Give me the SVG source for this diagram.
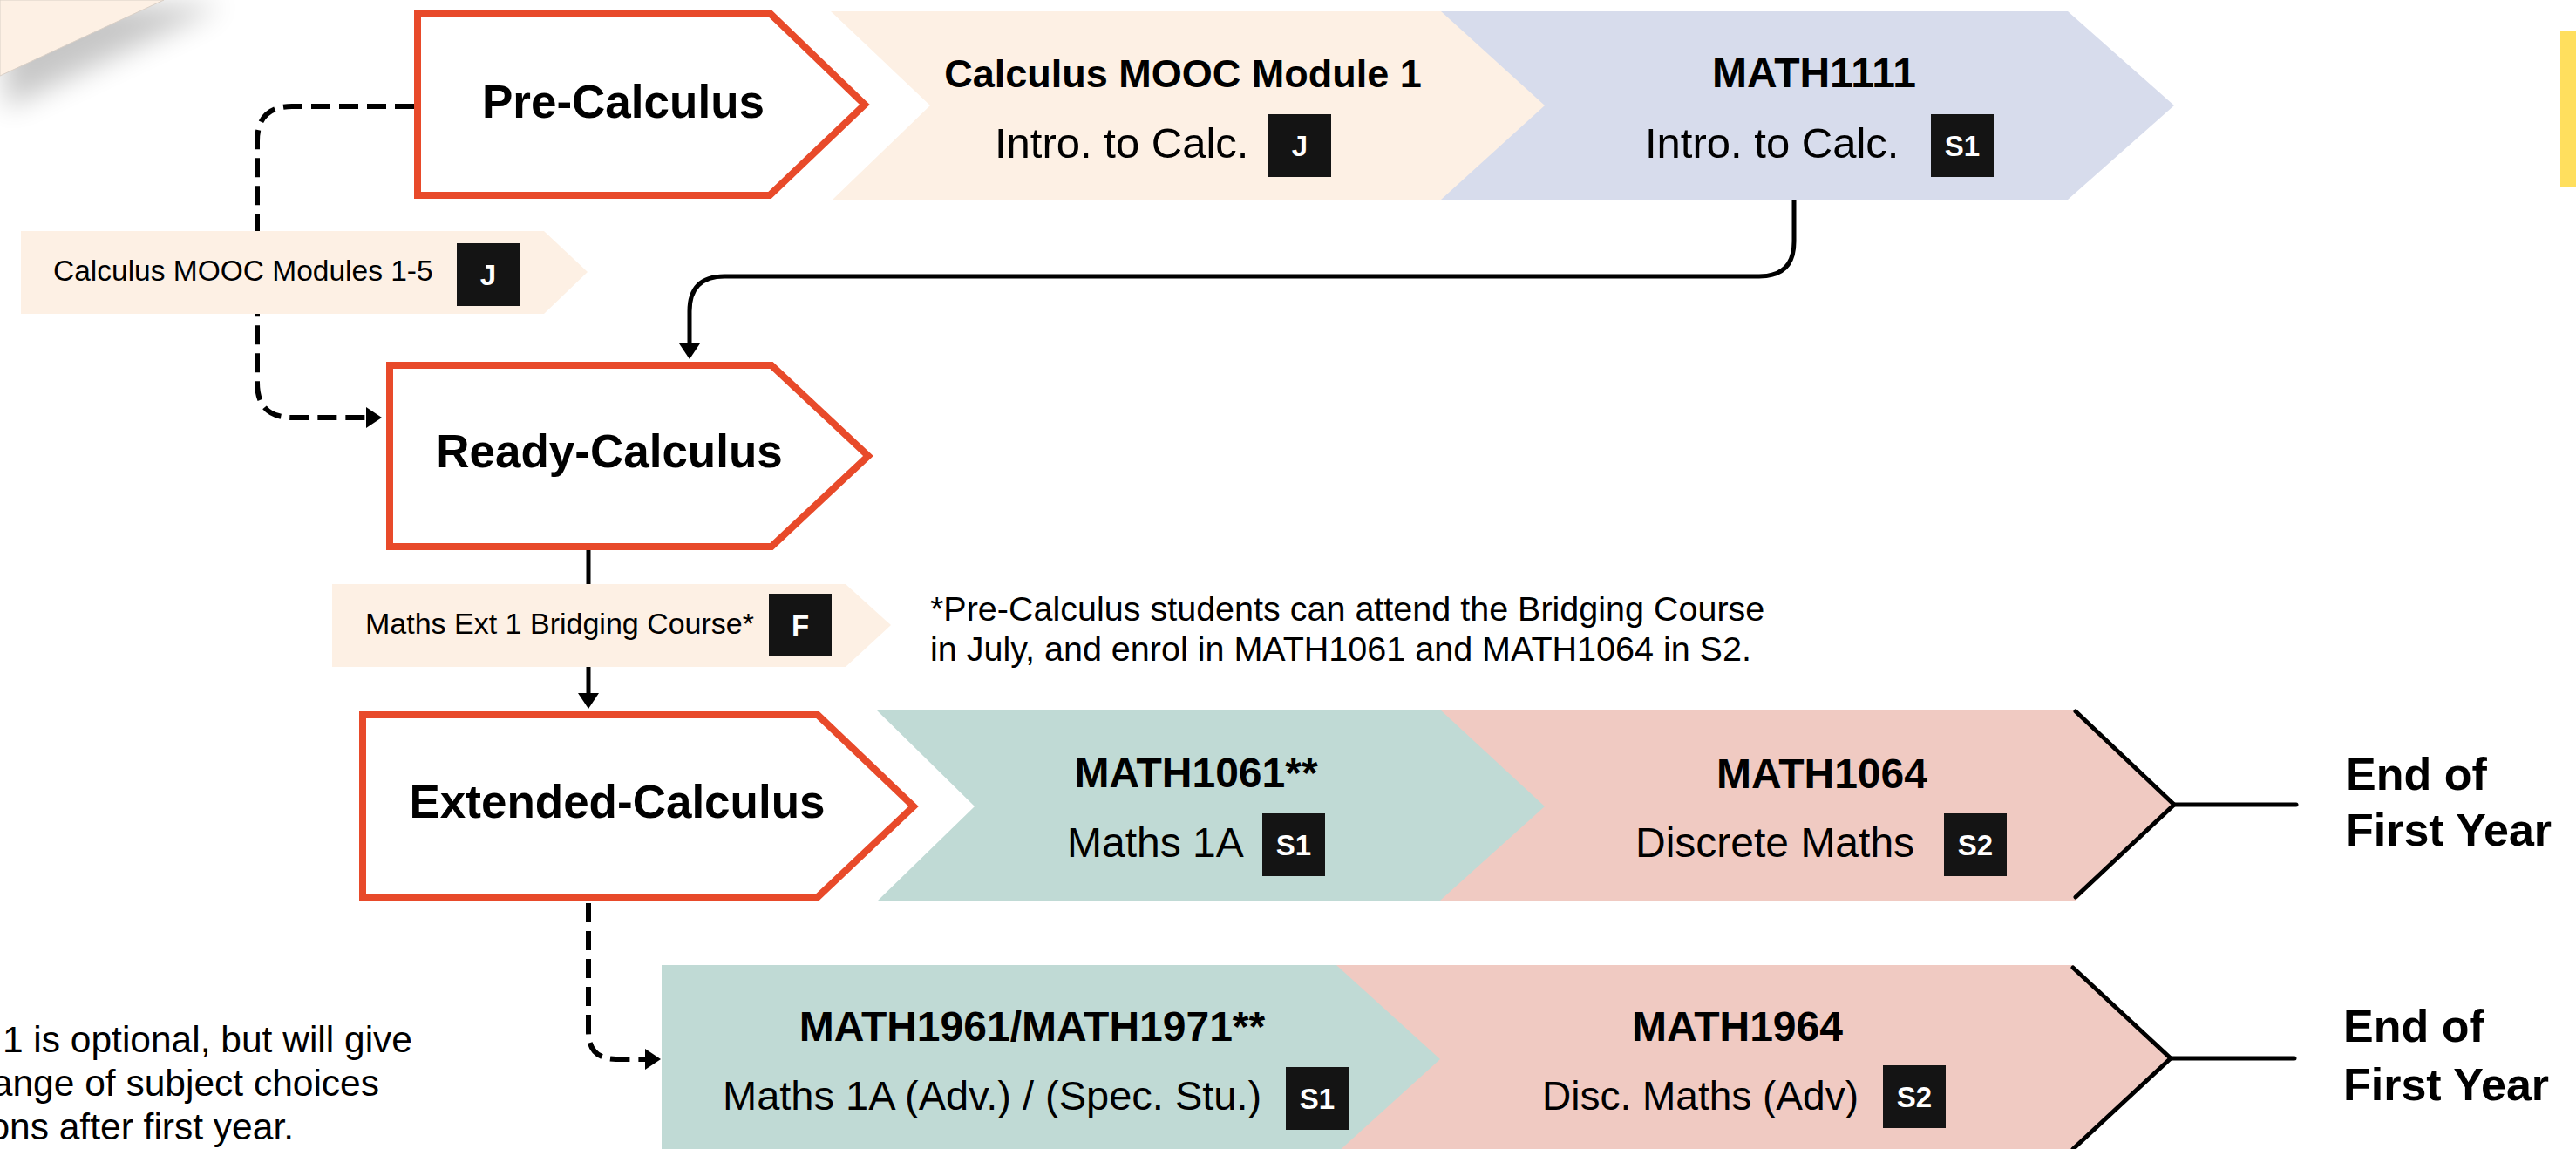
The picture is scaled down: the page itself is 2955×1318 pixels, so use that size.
<svg xmlns="http://www.w3.org/2000/svg" width="2955" height="1318" viewBox="0 0 2955 1318">
<style>
  .lvl{fill:#ffffff;stroke:#E84A2A;stroke-width:8;stroke-linejoin:miter}
  .beige{fill:#FDF0E4}
  .lav{fill:#D7DCEC}
  .teal{fill:#C0DAD5}
  .pink{fill:#F0CAC2}
  .badge{fill:#141414}
  .bt{font-family:"Liberation Sans",Arial,sans-serif;font-weight:bold;font-size:33px;fill:#ffffff;text-anchor:middle}
  .lvlt{font-family:"Liberation Sans",Arial,sans-serif;font-weight:bold;font-size:53px;fill:#000;text-anchor:middle}
  .code{font-family:"Liberation Sans",Arial,sans-serif;font-weight:bold;font-size:48px;fill:#000;text-anchor:middle}
  .sub{font-family:"Liberation Sans",Arial,sans-serif;font-size:48px;fill:#000}
  .small{font-family:"Liberation Sans",Arial,sans-serif;font-size:34px;fill:#000}
  .note{font-family:"Liberation Sans",Arial,sans-serif;font-size:39.5px;fill:#000}
  .side{font-family:"Liberation Sans",Arial,sans-serif;font-size:42.5px;fill:#000;text-anchor:end}
  .end{font-family:"Liberation Sans",Arial,sans-serif;font-weight:bold;font-size:52px;fill:#000}
  .fin{fill:none;stroke:#000;stroke-width:5;stroke-linecap:round;stroke-linejoin:miter}
  .solid{fill:none;stroke:#000;stroke-width:5}
  .dash{fill:none;stroke:#000;stroke-width:6;stroke-dasharray:22 10}
</style>
<defs>
  <marker id="arr" markerUnits="userSpaceOnUse" markerWidth="20" markerHeight="24" viewBox="0 0 20 24" refX="1" refY="12" orient="auto">
    <path d="M0,0 L18,12 L0,24 z" fill="#000"/>
  </marker>
  <filter id="blur" x="-50%" y="-50%" width="200%" height="200%">
    <feGaussianBlur stdDeviation="16"/>
  </filter>
</defs>

<rect x="0" y="0" width="2955" height="1318" fill="#ffffff"/>

<!-- corner decoration -->
<g id="corner">
  <polygon points="0,0 250,0 0,118" fill="#000" opacity="0.22" filter="url(#blur)" transform="translate(6,6)"/>
  <polygon points="0,0 188,0 0,87" class="beige" stroke="#d9cfc6" stroke-width="1"/>
</g>

<!-- yellow tab -->
<rect id="tab" x="2937" y="36" width="18" height="178" fill="#FFDF5E"/>

<!-- connectors -->
<g id="connectors">
  <path class="solid" d="M2058,229 V277 Q2058,317 2018,317 H831 Q791,317 791,357 V395" marker-end="url(#arr)"/>
  <path class="solid" d="M675,631 V796" marker-end="url(#arr)"/>
  <path class="dash" d="M475,122 H335 Q295,122 295,162 V439 Q295,479 335,479 H421" marker-end="url(#arr)"/>
  <path class="dash" d="M675,1036 V1183 Q675,1215 707,1215 H741" marker-end="url(#arr)"/>
</g>

<!-- level nodes -->
<g id="pre-calculus">
  <polygon class="lvl" points="479,15 883,15 992,120 883,224 479,224"/>
  <text class="lvlt" x="715" y="135">Pre-Calculus</text>
</g>
<g id="ready-calculus">
  <polygon class="lvl" points="447,419 885,419 996,523 885,627 447,627"/>
  <text class="lvlt" x="699" y="536">Ready-Calculus</text>
</g>
<g id="extended-calculus">
  <polygon class="lvl" points="416,820 938,820 1048,925 938,1029 416,1029"/>
  <text class="lvlt" x="708" y="938">Extended-Calculus</text>
</g>

<!-- row 1 courses -->
<g id="math1111">
  <polygon class="lav" points="1653,13 2372,13 2494,121 2372,229 1653,229"/>
  <text class="code" x="2081" y="100">MATH1111</text>
  <text class="sub" x="1887" y="181" style="font-size:49px">Intro. to Calc.</text>
  <rect class="badge" x="2215" y="131" width="72" height="72"/>
  <text class="bt" x="2251" y="179">S1</text>
</g>
<g id="mooc-module-1">
  <polygon class="beige" points="953,13 1653,13 1772,121 1653,229 955,229 1067,121"/>
  <text class="code" x="1357" y="100" style="font-size:45px">Calculus MOOC Module 1</text>
  <text class="sub" x="1141" y="181" style="font-size:49px">Intro. to Calc.</text>
  <rect class="badge" x="1455" y="131" width="72" height="72"/>
  <text class="bt" x="1491" y="179">J</text>
</g>

<!-- side courses -->
<g id="mooc-modules-1-5">
  <polygon class="beige" points="24,265 624,265 674,312 624,360 24,360"/>
  <text class="small" x="61" y="322" style="font-size:33.5px">Calculus MOOC Modules 1-5</text>
  <rect class="badge" x="524" y="279" width="72" height="72"/>
  <text class="bt" x="560" y="327">J</text>
</g>
<g id="bridging-course">
  <polygon class="beige" points="381,670 970,670 1022,717 970,765 381,765"/>
  <text class="small" x="419" y="727">Maths Ext 1 Bridging Course*</text>
  <rect class="badge" x="882" y="681" width="72" height="72"/>
  <text class="bt" x="918" y="729">F</text>
</g>

<g id="footnote">
  <text class="note" x="1067" y="712">*Pre-Calculus students can attend the Bridging Course</text>
  <text class="note" x="1067" y="758">in July, and enrol in MATH1061 and MATH1064 in S2.</text>
</g>

<!-- row 3 courses -->
<g id="math1064">
  <polygon class="pink" points="1652,814 2381,814 2494,923 2381,1033 1652,1033"/>
  <polyline class="fin" points="2381,816 2494,923 2381,1029"/>
  <line class="fin" x1="2494" y1="923" x2="2634" y2="923"/>
  <text class="code" x="2090" y="904">MATH1064</text>
  <text class="sub" x="1876" y="983">Discrete Maths</text>
  <rect class="badge" x="2230" y="933" width="72" height="72"/>
  <text class="bt" x="2266" y="981">S2</text>
</g>
<g id="math1061">
  <polygon class="teal" points="1005,814 1652,814 1772,925 1652,1033 1007,1033 1118,925"/>
  <text class="code" x="1372" y="903">MATH1061**</text>
  <text class="sub" x="1224" y="983">Maths 1A</text>
  <rect class="badge" x="1448" y="933" width="72" height="72"/>
  <text class="bt" x="1484" y="981">S1</text>
</g>
<g id="end-1">
  <text class="end" x="2691" y="906">End of</text>
  <text class="end" x="2691" y="970">First Year</text>
</g>

<!-- row 4 courses -->
<g id="math1964">
  <polygon class="pink" points="1519,1107 2378,1107 2490,1214 2378,1321 1519,1321"/>
  <polyline class="fin" points="2378,1110 2490,1214 2378,1318"/>
  <line class="fin" x1="2490" y1="1214" x2="2632" y2="1214"/>
  <text class="code" x="1993" y="1194">MATH1964</text>
  <text class="sub" x="1769" y="1273" style="font-size:46px">Disc. Maths (Adv)</text>
  <rect class="badge" x="2160" y="1222" width="72" height="72"/>
  <text class="bt" x="2196" y="1270">S2</text>
</g>
<g id="math1961">
  <polygon class="teal" points="759,1107 1533,1107 1652,1215 1533,1323 759,1323"/>
  <text class="code" x="1184" y="1194">MATH1961/MATH1971**</text>
  <text class="sub" x="829" y="1273" style="font-size:47px">Maths 1A (Adv.) / (Spec. Stu.)</text>
  <rect class="badge" x="1475" y="1224" width="72" height="72"/>
  <text class="bt" x="1511" y="1272">S1</text>
</g>
<g id="end-2">
  <text class="end" x="2688" y="1195">End of</text>
  <text class="end" x="2688" y="1262">First Year</text>
</g>

<g id="side-note">
  <text class="side" x="473" y="1207">1 is optional, but will give</text>
  <text class="side" x="435" y="1257">ange of subject choices</text>
  <text class="side" x="337" y="1307">ons after first year.</text>
</g>
</svg>
